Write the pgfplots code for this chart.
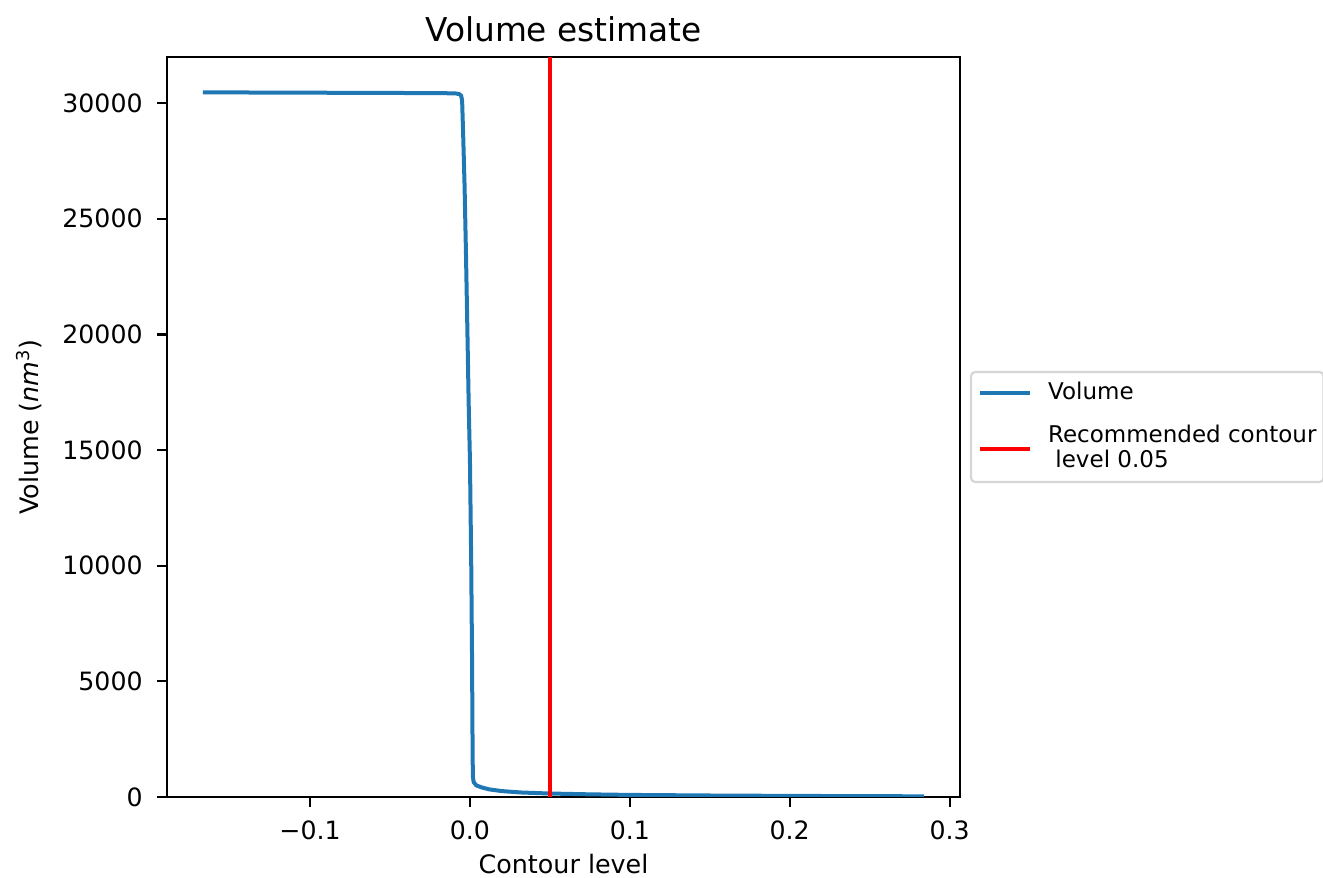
\documentclass[border=0pt]{standalone}
\usepackage{fontspec}
\setmainfont{DejaVu Sans}
\usepackage{pgfplots}
\pgfplotsset{compat=1.18}
\definecolor{mplblue}{HTML}{1F77B4}

\begin{document}
\begin{tikzpicture}
\begin{axis}[
  scale only axis,
  width=396.5pt, height=370pt,
  xmin=-0.1895, xmax=0.3065,
  ymin=0, ymax=31994,
  scaled y ticks=false,
  axis line style={line width=1.1pt},
  every tick/.style={black, line width=1.1pt},
  tick align=outside,
  major tick length=4.8pt,
  xtick pos=left, ytick pos=left,
  xtick={-0.1,0,0.1,0.2,0.3},
  xticklabels={−0.1,0.0,0.1,0.2,0.3},
  ytick={0,5000,10000,15000,20000,25000,30000},
  yticklabels={0,5000,10000,15000,20000,25000,30000},
  tick label style={font=\fontsize{12.6}{15}\selectfont, inner sep=0pt},
  xticklabel style={anchor=base, yshift=-16.2pt},
  yticklabel style={anchor=east, xshift=-7.2pt},
  title={Volume estimate},
  title style={font=\fontsize{16.4}{19}\selectfont, at={(axis description cs:0.5,1)},
    anchor=base, yshift=1.5pt, inner sep=0pt},
  xlabel={Contour level},
  xlabel style={font=\fontsize{12.7}{15}\selectfont, at={(axis description cs:0.5,0)},
    anchor=base, yshift=-38pt, inner sep=0pt},
  ylabel={Volume (\textit{nm}\textsuperscript{3})},
  ylabel style={font=\fontsize{12.7}{15}\selectfont, at={(axis description cs:-0.1576,0.5)},
    anchor=south, inner sep=0pt},
  legend style={
    at={(1.0126,0.5)}, anchor=west,
    draw=black!16, line width=1.1pt, rounded corners=2pt, fill=white,
    font=\fontsize{11.5}{12.5}\selectfont,
    inner xsep=3.5pt, inner ysep=5pt,
    row sep=10.6pt, column sep=8pt,
    nodes={inner sep=0pt, text depth=2.2pt},
    cells={align=left},
  },
  legend cell align=left,
  legend image code/.code={\draw[#1] (0pt,0pt) -- (25pt,0pt);},
]
\addplot[mplblue, line width=2pt, line join=round] coordinates {
  (-0.167,30465) (-0.12,30455) (-0.08,30446) (-0.04,30437) (-0.015,30428)
  (-0.0085,30415) (-0.0065,30385) (-0.0055,30320) (-0.0049,30100)
  (-0.0042,28500) (-0.0034,26500) (-0.0025,23500) (-0.0017,20500)
  (-0.0008,17000) (0.0000,14500) (0.0008,10000) (0.0013,6000)
  (0.0016,2500) (0.0018,900) (0.0023,640) (0.004,500) (0.0075,410)
  (0.012,330) (0.02,255) (0.032,195) (0.05,150) (0.075,115) (0.1,90)
  (0.15,65) (0.2,48) (0.25,36) (0.284,30)
};
\addlegendentry{Volume}
\addplot[red, line width=2pt] coordinates {(0.05,0) (0.05,31994)};
\addlegendentry{Recommended contour\\\hspace*{0.32em}level 0.05}
\end{axis}
\pgfresetboundingbox
\path[use as bounding box] (-83.5pt,-40.5pt) rectangle (578pt,398.5pt);
\end{tikzpicture}
\end{document}
